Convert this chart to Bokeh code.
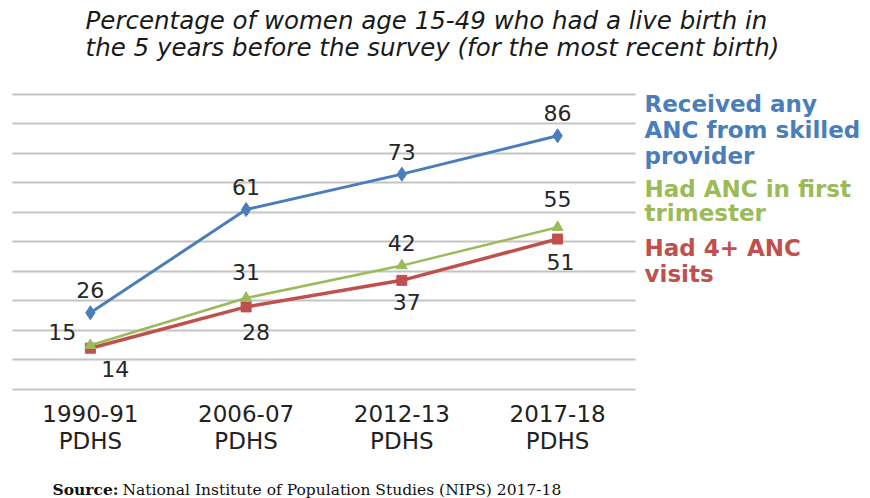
from bokeh.plotting import figure
from bokeh.models import Range1d, FixedTicker, Label
from bokeh.core.properties import value
from bokeh.embed import file_html
from bokeh.resources import INLINE

# survey rounds and ANC indicators (% of women 15-49 with a live birth in last 5 years)
survey_years = ["1990-91", "2006-07", "2012-13", "2017-18"]
survey_name = "PDHS"
skilled_anc = [26, 61, 73, 86]
first_trimester = [15, 31, 42, 55]
four_plus_visits = [14, 28, 37, 51]

xs = [0.5, 1.5, 2.5, 3.5]

BLUE = "#4a7ebb"
GREEN = "#9bbb59"
RED = "#c0504d"
SANS = "DejaVu Sans"
SERIF = "DejaVu Serif"

# the plotting frame spans the whole page; the chart body sits in x 0..4, y 0..100
p = figure(width=870, height=498, output_backend="svg", toolbar_location=None,
           x_range=Range1d(-0.077, 5.509), y_range=Range1d(-36.95, 131.86),
           min_border=0)
p.outline_line_color = None
p.background_fill_color = "white"
p.border_fill_color = "white"

p.xaxis.visible = False
p.yaxis.visible = False
p.xgrid.visible = False
p.ygrid.ticker = FixedTicker(ticks=list(range(0, 101, 10)))
p.ygrid.cross_bounds = (0, 4)
p.ygrid.grid_line_color = "#c4c4c4"
p.ygrid.grid_line_width = 2

# category labels under the chart body
p.text(x=xs, y=[-8.1] * 4, text=survey_years, text_font=value(SANS), text_font_size="23px",
       text_color="#222222", text_align="center", text_baseline="middle")
p.text(x=xs, y=[-17.3] * 4, text=[survey_name] * 4, text_font=value(SANS), text_font_size="23px",
       text_color="#222222", text_align="center", text_baseline="middle")

# series lines and markers
p.line(xs, skilled_anc, line_color=BLUE, line_width=3)
p.scatter(xs, skilled_anc, marker="diamond", size=14, fill_color=BLUE, line_color=BLUE)
p.line(xs, four_plus_visits, line_color=RED, line_width=3.5)
p.scatter(xs, four_plus_visits, marker="square", size=10, fill_color=RED, line_color=RED)
p.line(xs, first_trimester, line_color=GREEN, line_width=2.5)
p.scatter(xs, first_trimester, marker="triangle", size=11, fill_color=GREEN, line_color=GREEN)

# value labels next to each point (pixel offsets)
label_offsets = {
    "blue": ([0, 0, 0, 0], [-23, -23, -22, -23]),
    "green": ([-28, 0, 0, 0], [-13, -26, -23, -28]),
    "red": ([25, 10, 5, 3], [21, 25, 22, 23]),
}
for vals, key in [(skilled_anc, "blue"), (first_trimester, "green"), (four_plus_visits, "red")]:
    dx, dy = label_offsets[key]
    p.text(x=xs, y=vals, text=[str(v) for v in vals], x_offset=dx, y_offset=dy,
           text_font=value(SANS), text_font_size="22px", text_color="#262626",
           text_align="center", text_baseline="middle")

# title
for txt, yy in [("Percentage of women age 15-49 who had a live birth in", 125.1),
                ("the 5 years before the survey (for the most recent birth)", 115.9)]:
    p.add_layout(Label(x=0.469, y=yy, text=txt, text_font=SANS, text_font_size="24.5px",
                       text_font_style="italic", text_color="#1a1a1a",
                       text_align="left", text_baseline="middle"))

# series names at the right
legend_lines = [
    ("Received any", 96.9, BLUE), ("ANC from skilled", 87.8, BLUE), ("provider", 79.3, BLUE),
    ("Had ANC in first", 68.1, GREEN), ("trimester", 59.7, GREEN),
    ("Had 4+ ANC", 47.8, RED), ("visits", 39.3, RED),
]
for txt, yy, col in legend_lines:
    p.add_layout(Label(x=4.058, y=yy, text=txt, text_font=SANS, text_font_size="23px",
                       text_font_style="bold", text_color=col,
                       text_align="left", text_baseline="middle"))

# source note
p.add_layout(Label(x=0.257, y=-33.9, text="Source:", text_font=SERIF,
                   text_font_size="15.5px", text_font_style="bold", text_color="#111111",
                   text_align="left", text_baseline="middle"))
p.add_layout(Label(x=0.706, y=-33.9, text="National Institute of Population Studies (NIPS) 2017-18",
                   text_font=SERIF, text_font_size="15.5px", text_color="#111111",
                   text_align="left", text_baseline="middle"))

open("out.html", "w").write(file_html(p, INLINE))
